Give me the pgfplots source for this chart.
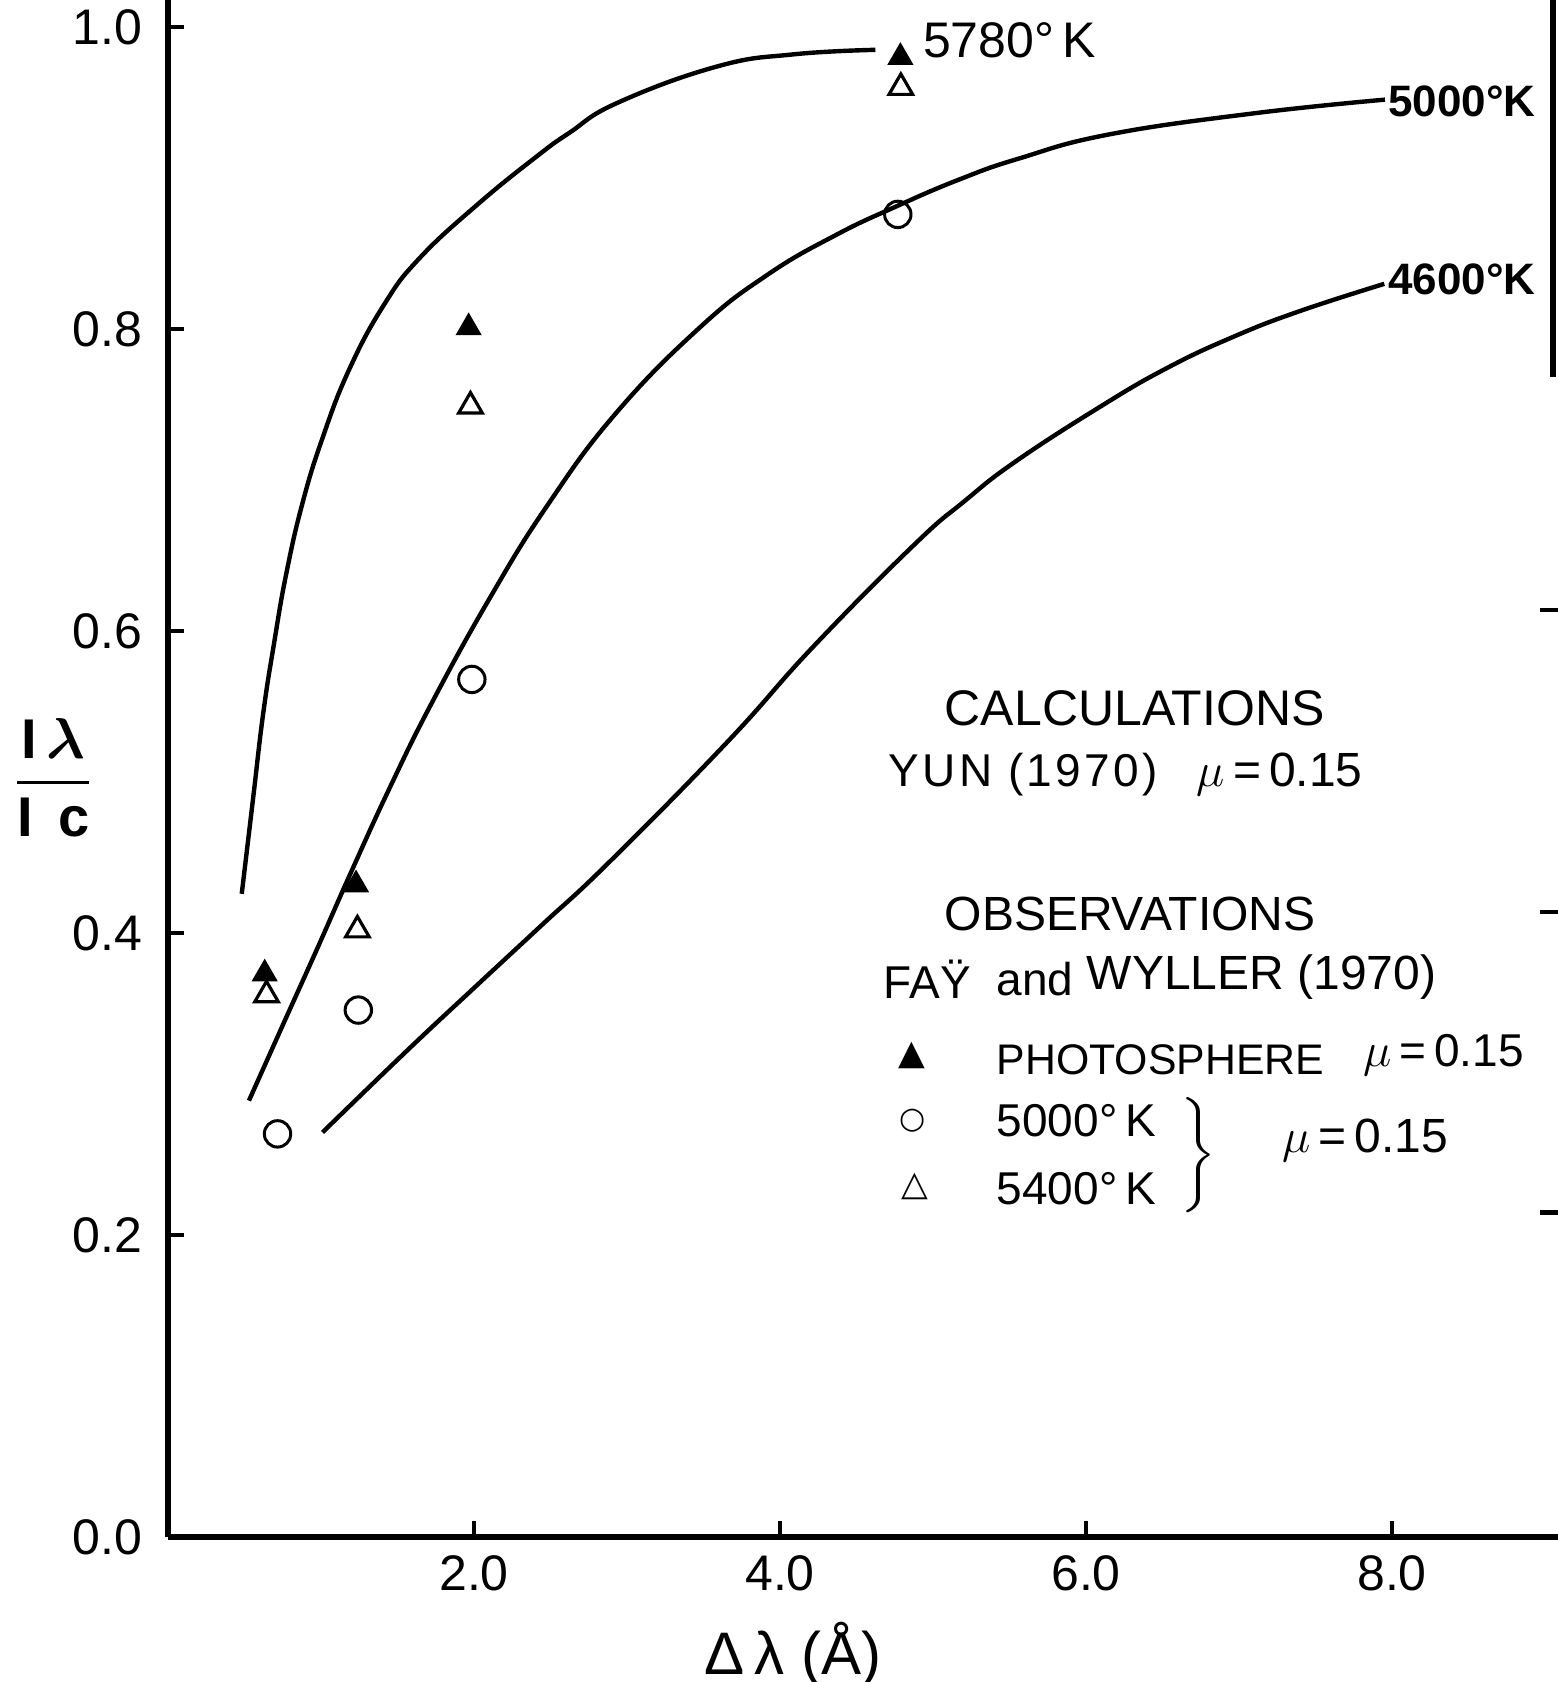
\documentclass[border=0pt]{standalone}
\usepackage{amsmath}
\usepackage{pgfplots}
\pgfplotsset{compat=1.18}
\usepackage{fontspec}
\setmainfont{Liberation Sans}
\newfontfamily\symfont{DejaVu Sans}
\begin{document}
\begin{tikzpicture}
\useasboundingbox (-42pt,-36.25pt) rectangle (347.5pt,384.25pt);
\begin{axis}[
  scale only axis,
  width=347.5pt, height=384.25pt,
  xmin=0, xmax=9.085, ymin=0, ymax=1.018,
  axis lines=left,
  axis line style={-, line width=1.3pt},
  every outer x axis line/.append style={-},
  every outer y axis line/.append style={-},
  tick align=inside,
  major tick length=4pt,
  tick style={line width=1.1pt, black},
  xtick={2,4,6,8}, xticklabels={2.0,4.0,6.0,8.0},
  ytick={0,0.2,0.4,0.6,0.8,1.0}, yticklabels={0.0,0.2,0.4,0.6,0.8,1.0},
  ticklabel style={font=\fontsize{12.5}{14}\selectfont},
  xticklabel style={yshift=-1pt},
  yticklabel style={xshift=-3pt},
  clip=false,
]
% Calculated curves (Yun 1970, mu = 0.15)
% 5780 K
\addplot[black, line width=1.1pt, smooth, tension=0.75] coordinates {
 (0.482,0.426) (0.556,0.489) (0.623,0.546) (0.695,0.593) (0.773,0.638)
 (0.877,0.684) (1.007,0.727) (1.183,0.773) (1.411,0.816) (1.644,0.847)
 (2.028,0.883) (2.405,0.914) (2.623,0.930) (2.940,0.950) (3.590,0.974)
 (4.088,0.982) (4.624,0.985)};
% 5000 K
\addplot[black, line width=1.1pt, smooth, tension=0.75] coordinates {
 (0.529,0.289) (0.759,0.341) (0.981,0.391) (1.204,0.442) (1.453,0.497)
 (1.722,0.552) (2.104,0.622) (2.478,0.683) (2.925,0.744) (3.475,0.801)
 (3.918,0.836) (4.359,0.862) (4.754,0.881) (5.169,0.899) (5.562,0.913)
 (6.153,0.929) (7.103,0.943) (7.954,0.952)};
% 4600 K
\addplot[black, line width=1.1pt, smooth, tension=0.75] coordinates {
 (1.010,0.268) (1.561,0.322) (2.004,0.364) (2.440,0.405) (2.884,0.447)
 (3.660,0.527) (4.211,0.589) (4.875,0.657) (5.205,0.686) (5.535,0.712)
 (6.083,0.748) (6.525,0.774) (6.965,0.795) (7.399,0.812) (7.950,0.830)};
% Observations (Fay and Wyller 1970)
\addplot[only marks, mark=o, mark size=3.3pt, mark options={draw=black, line width=0.75pt}] coordinates {
 (0.716,0.267) (1.244,0.349) (1.986,0.568) (4.770,0.876)};
\addplot[only marks, mark=triangle, mark size=3.4pt, mark options={draw=black, fill=white, line width=0.8pt}] coordinates {
 (0.644,0.359) (1.238,0.402) (1.977,0.749) (4.790,0.960)};
\addplot[only marks, mark=triangle*, mark size=3.4pt, mark options={draw=black, fill=black}] coordinates {
 (0.632,0.373) (1.229,0.432) (1.965,0.801) (4.787,0.980)};
% curve labels
\node[anchor=west, inner sep=0, font=\fontsize{12.5}{14}\selectfont] at (axis cs:4.93,0.991) {5780°\,K};
\node[anchor=west, inner sep=0, font=\bfseries\fontsize{11}{13}\selectfont] at (axis cs:7.97,0.951) {5000°K};
\node[anchor=west, inner sep=0, font=\bfseries\fontsize{11}{13}\selectfont] at (axis cs:7.97,0.833) {4600°K};
% key
\node[anchor=west, inner sep=0, font=\fontsize{12.5}{15}\selectfont] at (axis cs:5.072,0.549) {CALCULATIONS};
\node[anchor=west, inner sep=0, font=\fontsize{11.5}{14}\selectfont] at (axis cs:4.706,0.505) {\addfontfeatures{LetterSpace=7}YUN (1970)};
\node[anchor=west, inner sep=0, font=\fontsize{12}{14}\selectfont] at (axis cs:6.719,0.505) {$\mu$\,=\,0.15};
\node[anchor=west, inner sep=0, font=\fontsize{12}{15}\selectfont] at (axis cs:5.072,0.4126) {OBSERVATIONS};
\node[anchor=west, inner sep=0, font=\fontsize{11.5}{14}\selectfont] at (axis cs:4.673,0.3695) {FAŸ};
\node[anchor=west, inner sep=0, font=\fontsize{11.5}{14}\selectfont] at (axis cs:5.412,0.3695) {and};
\node[anchor=west, inner sep=0, font=\fontsize{12}{14}\selectfont] at (axis cs:6.0,0.371) {WYLLER (1970)};
\node[inner sep=0, font=\symfont\fontsize{8.7}{10}\selectfont] at (axis cs:4.863,0.319) {▲};
\node[anchor=west, inner sep=0, font=\fontsize{10.7}{13}\selectfont] at (axis cs:5.412,0.316) {PHOTOSPHERE};
\node[anchor=west, inner sep=0, font=\fontsize{11.5}{14}\selectfont] at (axis cs:7.81,0.319) {$\mu$\,=\,0.15};
\node[inner sep=0, font=\symfont\fontsize{7.5}{9}\selectfont] at (axis cs:4.869,0.2755) {○};
\node[anchor=west, inner sep=0, font=\fontsize{11.5}{14}\selectfont] at (axis cs:5.412,0.2755) {5000°\,K};
\node[inner sep=0, font=\symfont\fontsize{8.7}{10}\selectfont] at (axis cs:4.882,0.2325) {△};
\node[anchor=west, inner sep=0, font=\fontsize{11.5}{14}\selectfont] at (axis cs:5.412,0.2305) {5400°\,K};
\node[inner sep=0, font=\fontsize{11.5}{14}\selectfont] at (axis cs:6.72,0.253) {$\left.\rule[-10pt]{0pt}{20pt}\right\}$};
\node[anchor=west, inner sep=0, font=\fontsize{12}{14}\selectfont] at (axis cs:7.28,0.263) {$\mu$\,=\,0.15};
% axis titles
\node[anchor=base, inner sep=0, font=\fontsize{15}{17}\selectfont] at (axis cs:4.085,-0.091) {Δ\,λ\;(Å)};
\node[inner sep=0, font=\fontsize{14}{16}\selectfont] at (axis cs:-0.75,0.503) {$\displaystyle\frac{\mathbf{I}\,\boldsymbol{\lambda}}{\mathbf{I}\;\,\mathbf{c}}$};
% right edge of the scanned frame
\draw[line width=1.5pt] (axis cs:9.05,1.018) -- (axis cs:9.05,0.768);
\draw[line width=1.1pt] (axis cs:8.97,0.614) -- (axis cs:9.085,0.614);
\draw[line width=1.1pt] (axis cs:8.97,0.414) -- (axis cs:9.085,0.414);
\draw[line width=1.1pt] (axis cs:8.97,0.215) -- (axis cs:9.085,0.215);
\end{axis}
\end{tikzpicture}
\end{document}
